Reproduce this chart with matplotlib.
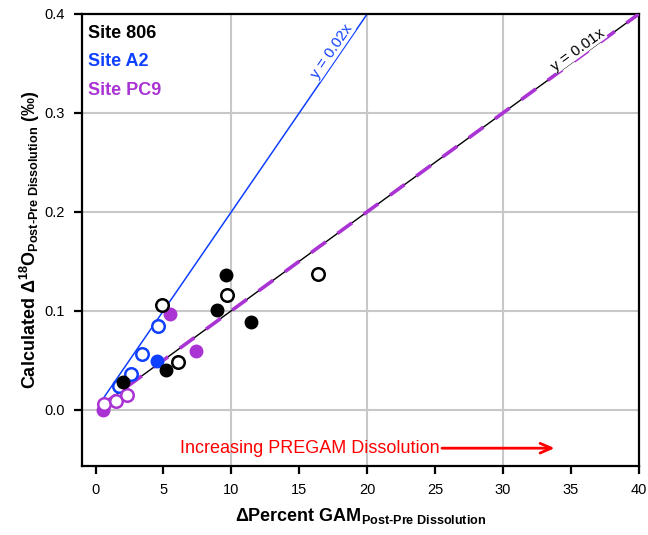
import numpy as np
import matplotlib.pyplot as plt

plt.rcParams['font.family'] = ['Liberation Sans', 'DejaVu Sans']
plt.rcParams['mathtext.fontset'] = 'custom'
plt.rcParams['mathtext.rm'] = 'Liberation Sans:bold'
plt.rcParams['mathtext.bf'] = 'Liberation Sans:bold'
plt.rcParams['mathtext.default'] = 'bf'

# Site 806
s806_fill_x = [2.04, 5.16, 8.96, 9.62, 11.42]
s806_fill_y = [0.028, 0.040, 0.101, 0.136, 0.089]
s806_open_x = [4.86, 6.09, 9.70, 16.4]
s806_open_y = [0.106, 0.048, 0.116, 0.137]
# Site A2
a2_fill_x = [4.49]
a2_fill_y = [0.049]
a2_open_x = [1.72, 2.58, 3.44, 4.59]
a2_open_y = [0.024, 0.036, 0.056, 0.085]
# Site PC9
pc9_fill_x = [0.52, 5.48, 7.41]
pc9_fill_y = [0.0, 0.097, 0.059]
pc9_open_x = [0.61, 1.47, 2.33]
pc9_open_y = [0.006, 0.009, 0.015]

slope_a2 = 0.02
slope_806 = 0.01
slope_pc9 = 0.01

black = 'black'
blue = '#1040FF'
purple = '#AA33D4'

fig = plt.figure(figsize=(6.48, 5.35), dpi=100)
ax = fig.add_axes([0.1265, 0.129, 0.8595, 0.845])
ax.set_xlim(-1, 40)
ax.set_ylim(-0.057, 0.4)

ax.set_xticks(np.arange(0, 41, 5))
ax.set_yticks([0.0, 0.1, 0.2, 0.3, 0.4])
ax.set_yticklabels(['0.0', '0.1', '0.2', '0.3', '0.4'])
ax.tick_params(direction='out', length=5.5, width=1.6, labelsize=10.5, pad=7)
for s in ax.spines.values():
    s.set_linewidth(1.6)

for gx in [10, 20, 30]:
    ax.axvline(gx, color='#C8C8C8', lw=1.5, zorder=0)
for gy in [0.0, 0.1, 0.2, 0.3]:
    ax.axhline(gy, color='#C8C8C8', lw=1.5, zorder=0)

# regression lines
xl = np.array([0.4, 20.5])
ax.plot(xl, slope_a2 * xl, color=blue, lw=1.1, zorder=2)
xl = np.array([0.4, 40])
ax.plot(xl, slope_806 * xl, color=black, lw=1.0, zorder=2)
ax.plot(xl, slope_pc9 * xl, color=purple, lw=2.6, ls=(0, (5, 4)), zorder=3)


def screen_angle(slope):
    p = ax.transData.transform([(0, 0), (10, 10 * slope)])
    return np.degrees(np.arctan2(p[1, 1] - p[0, 1], p[1, 0] - p[0, 0]))


ax.text(17.4, 0.362, 'y = 0.02x', color=blue, fontsize=11, rotation=screen_angle(slope_a2),
        rotation_mode='anchor', ha='center', va='center',
        bbox=dict(facecolor='white', edgecolor='none', pad=0.3), zorder=4)
ax.text(35.5, 0.364, 'y = 0.01x', color=black, fontsize=11, rotation=screen_angle(slope_806),
        rotation_mode='anchor', ha='center', va='center',
        bbox=dict(facecolor='white', edgecolor='none', pad=0.3), zorder=4)

ms = 9
ax.plot(a2_fill_x, a2_fill_y, 'o', color=blue, ms=ms, zorder=5)
ax.plot(a2_open_x, a2_open_y, 'o', mfc='white', mec=blue, mew=1.8, ms=ms, zorder=5)
ax.plot(pc9_fill_x, pc9_fill_y, 'o', color=purple, ms=ms, zorder=5)
ax.plot(pc9_open_x, pc9_open_y, 'o', mfc='white', mec=purple, mew=1.8, ms=ms, zorder=5)
ax.plot(s806_fill_x, s806_fill_y, 'o', color=black, ms=ms, zorder=5)
ax.plot(s806_open_x, s806_open_y, 'o', mfc='white', mec=black, mew=1.8, ms=ms, zorder=5)

ax.text(0.01, 0.957, 'Site 806', color=black, fontsize=13, fontweight='bold', transform=ax.transAxes, va='center')
ax.text(0.01, 0.895, 'Site A2', color=blue, fontsize=13, fontweight='bold', transform=ax.transAxes, va='center')
ax.text(0.01, 0.830, 'Site PC9', color=purple, fontsize=13, fontweight='bold', transform=ax.transAxes, va='center')

ax.text(25.3, -0.039, 'Increasing PREGAM Dissolution', color='red', fontsize=13, ha='right', va='center')
ax.annotate('', xy=(34.0, -0.039), xytext=(25.3, -0.039),
            arrowprops=dict(arrowstyle='->,head_length=0.8,head_width=0.35', color='red', lw=2))

ax.set_xlabel(r'$\Delta$Percent GAM$_{\text{Post-Pre Dissolution}}$', fontsize=13, fontweight='bold')
ax.set_ylabel(r'Calculated $\Delta^{18}$O$_{\text{Post-Pre Dissolution}}$ (‰)', fontsize=13, fontweight='bold')
ax.xaxis.set_label_coords(0.5, -0.088)
ax.yaxis.set_label_coords(-0.072, 0.5)

fig.savefig('out.png', dpi=100)
